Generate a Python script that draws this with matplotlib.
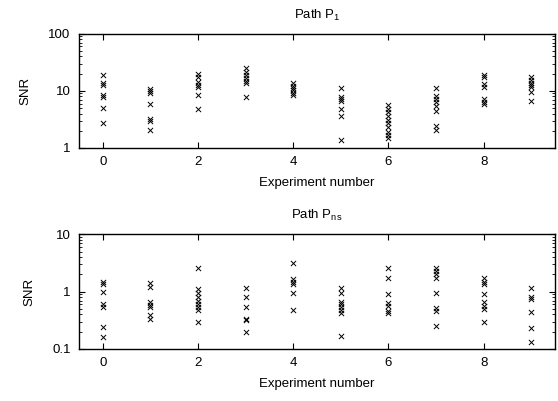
import matplotlib
matplotlib.use("Agg")
import matplotlib.pyplot as plt
from matplotlib.ticker import LogLocator, FuncFormatter, FixedLocator

plt.rcParams['font.family'] = ['Liberation Sans', 'DejaVu Sans']
plt.rcParams['mathtext.fontset'] = 'custom'
plt.rcParams['mathtext.rm'] = 'Liberation Sans'
plt.rcParams['mathtext.it'] = 'Liberation Sans:italic'

# SNR per run, grouped by experiment number
snr_p1 = [
    [18.9, 13.8, 12.9, 8.4, 7.9, 5.0, 2.7],
    [10.6, 9.9, 9.2, 5.8, 3.15, 2.94, 2.05],
    [19.6, 17.2, 14.0, 12.6, 11.7, 8.4, 4.8],
    [24.7, 21.3, 18.8, 16.5, 15.0, 13.8, 7.85],
    [13.5, 12.2, 11.3, 10.3, 9.2, 8.4],
    [11.3, 7.7, 7.1, 6.6, 4.9, 3.6, 1.36],
    [5.6, 4.9, 4.3, 3.6, 3.06, 2.7, 2.3, 1.9, 1.67, 1.5],
    [11.0, 8.1, 7.15, 6.4, 5.4, 4.5, 2.4, 2.05],
    [18.8, 17.2, 13.0, 11.7, 7.1, 6.4, 5.8],
    [17.6, 15.4, 13.8, 12.9, 11.7, 9.6, 6.6],
]

snr_pns = [
    [1.46, 1.35, 1.0, 0.60, 0.55, 0.24, 0.16],
    [1.40, 1.19, 0.67, 0.59, 0.53, 0.39, 0.34],
    [2.6, 1.11, 0.96, 0.82, 0.70, 0.60, 0.53, 0.47, 0.29],
    [1.17, 0.82, 0.55, 0.34, 0.32, 0.195],
    [3.1, 1.67, 1.5, 1.35, 0.94, 0.48],
    [1.15, 0.96, 0.67, 0.60, 0.55, 0.48, 0.43, 0.17],
    [2.6, 1.75, 0.90, 0.64, 0.57, 0.46, 0.42],
    [2.56, 2.3, 2.04, 1.71, 0.94, 0.51, 0.46, 0.25],
    [1.71, 1.5, 1.35, 0.90, 0.65, 0.56, 0.49, 0.30],
    [1.15, 0.82, 0.74, 0.45, 0.23, 0.13],
]

titles = ["Path P$_1$", "Path P$_{\\mathrm{ns}}$"]
ylims = [(1, 100), (0.1, 10)]
fs = 9.5

fig = plt.figure(figsize=(5.58, 4.01), dpi=100)
ax_top = fig.add_axes([0.1416, 0.631, 0.853, 0.285])
ax_bot = fig.add_axes([0.1416, 0.1297, 0.853, 0.286])

for ax, data, title, ylim in zip([ax_top, ax_bot], [snr_p1, snr_pns], titles, ylims):
    for exp, vals in enumerate(data):
        ax.scatter([exp] * len(vals), vals, marker='x', s=14, c='black',
                   linewidths=0.7)
    ax.set_yscale('log')
    ax.set_xlim(-0.5, 9.5)
    ax.set_ylim(*ylim)
    ax.xaxis.set_major_locator(FixedLocator([0, 2, 4, 6, 8]))
    ax.yaxis.set_major_locator(LogLocator(base=10))
    ax.yaxis.set_minor_locator(LogLocator(base=10, subs=range(2, 10)))
    ax.yaxis.set_major_formatter(FuncFormatter(lambda v, p: '%g' % v))
    ax.tick_params(which='both', direction='in', top=True, right=True,
                   labelsize=fs, color='black', pad=6)
    ax.tick_params(which='major', length=4, width=0.8)
    ax.tick_params(which='minor', length=2, width=0.6)
    for sp in ax.spines.values():
        sp.set_linewidth(1.0)
    ax.set_xlabel('Experiment number', fontsize=fs, labelpad=6)
    ax.set_ylabel('SNR', fontsize=fs, labelpad=12)
    ax.set_title(title, fontsize=fs, pad=11)

fig.savefig('out.png', dpi=100)
